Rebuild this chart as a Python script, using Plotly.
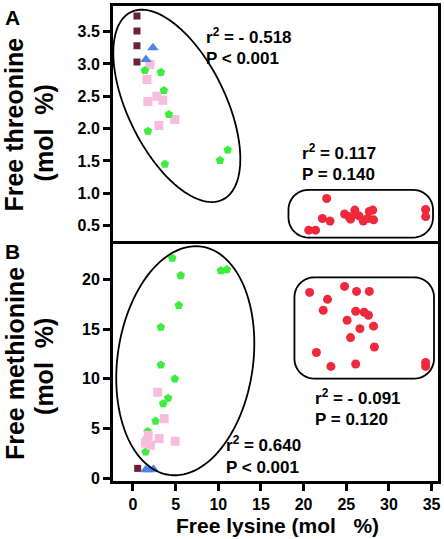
import numpy as np
import plotly.graph_objects as go

# ---------------- data ----------------
# Panel A: free lysine (x) vs free threonine (y)
brown_A_x = [0.47, 0.47, 0.47, 0.47]
brown_A_y = [3.74, 3.51, 3.28, 3.03]
blue_A_x = [2.34, 1.52]
blue_A_y = [3.25, 3.07]
pink_A_x = [1.99, 1.64, 1.75, 2.80, 3.50, 4.91, 3.04]
pink_A_y = [2.99, 2.76, 2.42, 2.50, 2.44, 2.14, 2.05]
green_A_x = [1.40, 3.27, 3.62, 4.21, 1.75, 3.74, 11.1, 10.2]
green_A_y = [2.90, 2.87, 2.59, 2.22, 1.96, 1.45, 1.67, 1.51]
red_A_x = [22.7, 22.2, 23.1, 20.6, 21.4, 24.8, 25.3, 26.0, 26.1, 26.5, 25.5,
           27.0, 27.5, 27.7, 28.1, 28.2, 34.3, 34.3]
red_A_y = [0.92, 0.61, 0.57, 0.43, 0.43, 0.68, 0.64, 0.74, 0.68, 0.65, 0.60,
           0.57, 0.61, 0.72, 0.74, 0.59, 0.75, 0.64]

# Panel B: free lysine (x) vs free methionine (y)
brown_B_x = [0.55]
brown_B_y = [0.99]
blue_B_x = [1.5, 1.9, 2.4]
blue_B_y = [0.85, 0.85, 0.90]
pink_B_x = [2.89, 3.66, 1.79, 3.07, 4.94, 1.46, 2.04, 1.64]
pink_B_y = [8.65, 5.99, 4.32, 3.99, 3.72, 3.52, 3.32, 3.8]
green_B_x = [4.6, 5.6, 10.3, 11.0, 5.37, 3.27, 3.27, 4.9, 4.12, 3.54, 2.65, 1.48, 1.72]
green_B_y = [22.15, 20.4, 20.9, 21.0, 17.4, 15.2, 11.4, 10.0, 8.05, 7.5, 5.75, 2.65, 4.7]
red_B_x = [20.7, 24.8, 26.2, 27.7, 22.8, 22.3, 26.1, 27.1, 27.6, 25.1, 26.6,
           28.2, 25.5, 28.3, 21.5, 23.2, 26.1, 34.3, 34.3]
red_B_y = [18.7, 19.3, 18.8, 18.8, 18.0, 16.9, 16.8, 16.7, 16.4, 15.9, 15.05,
           15.3, 14.15, 13.2, 12.65, 11.25, 11.5, 11.65, 11.25]

x_ticks = [0, 5, 10, 15, 20, 25, 30, 35]
yA_ticks = [0.5, 1.0, 1.5, 2.0, 2.5, 3.0, 3.5]
yB_ticks = [0, 5, 10, 15, 20]

stats_A = [("r<sup>2</sup> = - 0.518", "P < 0.001"), ("r<sup>2</sup> = 0.117", "P = 0.140")]
stats_B = [("r<sup>2</sup> = - 0.091", "P = 0.120"), ("r<sup>2</sup> = 0.640", "P < 0.001")]

# ---------------- colours / styles ----------------
C_BROWN = "#6b2138"
C_BLUE = "#4a86e8"
C_PINK = "#f8bcdc"
C_GREEN = "#3ded3d"
C_RED = "#f0283c"
FONT = "Liberation Sans, Arial, sans-serif"

W, H = 444, 539
ML, MR, MT, MB = 113, 5, 3, 58
X_RANGE = [-2.34, 35.75]
YA_RANGE = [0.27, 3.896]
YB_RANGE = [-0.28, 23.52]

fig = go.Figure()


def add_group(x, y, color, symbol, size, xa, ya):
    fig.add_trace(go.Scatter(x=x, y=y, mode="markers", xaxis=xa, yaxis=ya,
                             marker=dict(color=color, symbol=symbol, size=size,
                                         line=dict(width=0)),
                             showlegend=False, hoverinfo="skip"))


for xa, ya, groups in [
    ("x", "y", [(brown_A_x, brown_A_y, C_BROWN, "square", 7),
                (pink_A_x, pink_A_y, C_PINK, "square", 9),
                (green_A_x, green_A_y, C_GREEN, "pentagon", 9),
                (blue_A_x, blue_A_y, C_BLUE, "triangle-up", 10),
                (red_A_x, red_A_y, C_RED, "circle", 9)]),
    ("x2", "y2", [(brown_B_x, brown_B_y, C_BROWN, "square", 7),
                  (green_B_x, green_B_y, C_GREEN, "pentagon", 9),
                  (pink_B_x, pink_B_y, C_PINK, "square", 9),
                  (blue_B_x, blue_B_y, C_BLUE, "triangle-up", 10),
                  (red_B_x, red_B_y, C_RED, "circle", 9)]),
]:
    for gx, gy, c, s, sz in groups:
        add_group(gx, gy, c, s, sz, xa, ya)

# ---------------- outline shapes (drawn in pixel terms, converted to data) -----
plot_w = W - ML - MR
plot_h = H - MT - MB
domA = [(H - MB - 239) / plot_h, 1.0]
domB = [0.0, (H - MB - 243) / plot_h]


def px_to_x(px):
    return X_RANGE[0] + (px - ML) / plot_w * (X_RANGE[1] - X_RANGE[0])


def py_to_y(py, dom, rng):
    top = MT + (1 - dom[1]) * plot_h
    bot = MT + (1 - dom[0]) * plot_h
    return rng[0] + (bot - py) / (bot - top) * (rng[1] - rng[0])


def path_from_px(pts, dom, rng):
    s = ""
    for i, (px, py) in enumerate(pts):
        s += ("M" if i == 0 else "L") + f"{px_to_x(px):.4f},{py_to_y(py, dom, rng):.4f} "
    return s + "Z"


def ellipse_pts(cx, cy, a, b, ang_deg, n=120):
    t = np.linspace(0, 2 * np.pi, n)
    ang = np.radians(ang_deg)
    ex = a * np.cos(t)
    ey = b * np.sin(t)
    return list(zip(cx + ex * np.cos(ang) - ey * np.sin(ang),
                    cy + ex * np.sin(ang) + ey * np.cos(ang)))


def rrect_pts(x0, y0, x1, y1, r, n=12):
    pts = []
    corners = [(x1 - r, y0 + r, -90, 0), (x1 - r, y1 - r, 0, 90),
               (x0 + r, y1 - r, 90, 180), (x0 + r, y0 + r, 180, 270)]
    for ccx, ccy, a0, a1 in corners:
        for a in np.linspace(np.radians(a0), np.radians(a1), n):
            pts.append((ccx + r * np.cos(a), ccy + r * np.sin(a)))
    return pts


shape_line = dict(color="black", width=1.8)
fig.add_shape(type="path", xref="x", yref="y", line=shape_line,
              path=path_from_px(ellipse_pts(177, 103.5, 105, 49, 64), domA, YA_RANGE))
fig.add_shape(type="path", xref="x", yref="y", line=shape_line,
              path=path_from_px(rrect_pts(289, 188, 434, 236, 20), domA, YA_RANGE))
fig.add_shape(type="path", xref="x2", yref="y2", line=shape_line,
              path=path_from_px(ellipse_pts(185.5, 360, 116, 68, 98), domB, YB_RANGE))
fig.add_shape(type="path", xref="x2", yref="y2", line=shape_line,
              path=path_from_px(rrect_pts(295, 276, 435, 378, 20), domB, YB_RANGE))

# ---------------- annotations ----------------
ann = []


def px_ann(text, px, py, size=17, xanchor="left", angle=0):
    ann.append(dict(text=text, x=(px - ML) / plot_w, y=(H - MB - py) / plot_h,
                    xref="paper", yref="paper", xanchor=xanchor, yanchor="middle",
                    showarrow=False, textangle=angle,
                    font=dict(family=FONT, size=size, color="black")))


for (r, p), (px, py) in zip(stats_A + stats_B,
                            [(204, 33), (301, 150), (314, 396), (224, 444)]):
    px_ann(f"<b>{r}</b>", px, py)
    px_ann(f"<b>{p}</b>", px, py + 23)

px_ann("<b>A</b>", 3, 15, size=21)
px_ann("<b>B</b>", 3, 250, size=21)
px_ann("<b>Free threonine</b>", 14, 122, size=25, xanchor="center", angle=-90)
px_ann("<b>(mol\u00a0\u00a0%)</b>", 44, 131, size=25, xanchor="center", angle=-90)
px_ann("<b>Free methionine</b>", 14, 363, size=25, xanchor="center", angle=-90)
px_ann("<b>(mol\u00a0\u00a0%)</b>", 44, 366, size=25, xanchor="center", angle=-90)
px_ann("<b>Free lysine (mol\u00a0\u00a0\u00a0%)</b>", 278, 526, size=21, xanchor="center")

# ---------------- layout ----------------
axis_common = dict(showline=True, linecolor="black", linewidth=3, mirror=True,
                   showgrid=False, zeroline=False, ticks="outside", ticklen=7,
                   tickwidth=3, tickcolor="black",
                   tickfont=dict(family=FONT, size=16, color="black"))

fig.update_layout(
    width=W, height=H,
    margin=dict(l=ML, r=MR, t=MT, b=MB),
    paper_bgcolor="white", plot_bgcolor="white",
    xaxis=dict(**{**axis_common, "ticks": "", "showticklabels": False},
               range=X_RANGE, anchor="y", domain=[0, 1]),
    yaxis=dict(**axis_common, range=YA_RANGE, domain=domA, anchor="x",
               tickvals=yA_ticks, ticktext=[f"<b>{v:.1f}</b>" for v in yA_ticks]),
    xaxis2=dict(**axis_common, range=X_RANGE, anchor="y2", domain=[0, 1],
                tickvals=x_ticks, ticktext=[f"<b>{v}</b>" for v in x_ticks]),
    yaxis2=dict(**axis_common, range=YB_RANGE, domain=domB, anchor="x2",
                tickvals=yB_ticks, ticktext=[f"<b>{v}</b>" for v in yB_ticks]),
    annotations=ann,
    showlegend=False,
)

fig.write_html("out.html",
               config={"displayModeBar": False},
               post_script="document.body.style.margin='0';"
                           "document.body.style.overflow='hidden';")
